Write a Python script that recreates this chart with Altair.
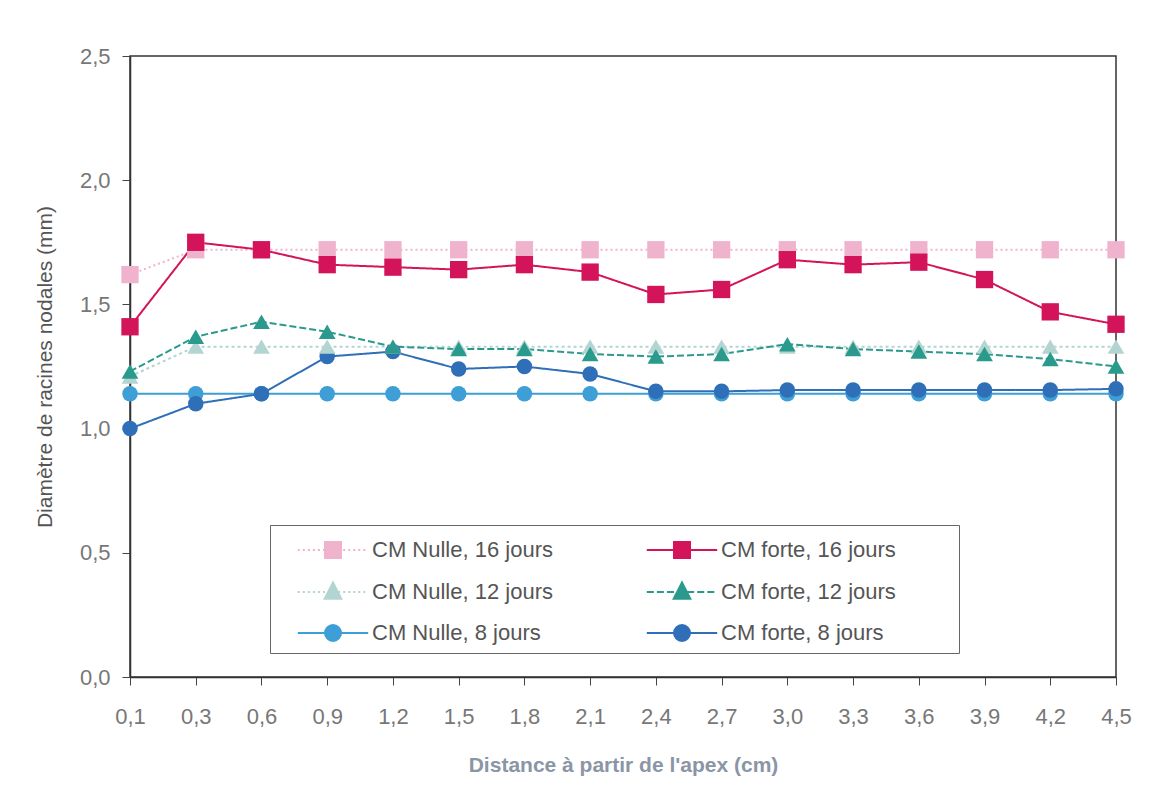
import altair as alt
import pandas as pd

# ---- data ----
x_labels = ["0,1", "0,3", "0,6", "0,9", "1,2", "1,5", "1,8", "2,1",
            "2,4", "2,7", "3,0", "3,3", "3,6", "3,9", "4,2", "4,5"]

series_names = ["CM Nulle, 16 jours", "CM forte, 16 jours",
                "CM Nulle, 12 jours", "CM forte, 12 jours",
                "CM Nulle, 8 jours", "CM forte, 8 jours"]

nulle16 = [1.62, 1.72, 1.72, 1.72, 1.72, 1.72, 1.72, 1.72,
           1.72, 1.72, 1.72, 1.72, 1.72, 1.72, 1.72, 1.72]
forte16 = [1.41, 1.75, 1.72, 1.66, 1.65, 1.64, 1.66, 1.63,
           1.54, 1.56, 1.68, 1.66, 1.67, 1.60, 1.47, 1.42]
nulle12 = [1.21, 1.33, 1.33, 1.33, 1.33, 1.33, 1.33, 1.33,
           1.33, 1.33, 1.33, 1.33, 1.33, 1.33, 1.33, 1.33]
forte12 = [1.23, 1.37, 1.43, 1.39, 1.33, 1.32, 1.32, 1.30,
           1.29, 1.30, 1.34, 1.32, 1.31, 1.30, 1.28, 1.25]
nulle8 = [1.14, 1.14, 1.14, 1.14, 1.14, 1.14, 1.14, 1.14,
          1.14, 1.14, 1.14, 1.14, 1.14, 1.14, 1.14, 1.14]
forte8 = [1.00, 1.10, 1.14, 1.29, 1.31, 1.24, 1.25, 1.22,
          1.15, 1.15, 1.155, 1.155, 1.155, 1.155, 1.155, 1.16]

# drawing order: pale series under the strong ones
draw_order = ["CM Nulle, 16 jours", "CM Nulle, 12 jours", "CM Nulle, 8 jours",
              "CM forte, 8 jours", "CM forte, 12 jours", "CM forte, 16 jours"]
values_by_series = {
    "CM Nulle, 16 jours": nulle16, "CM forte, 16 jours": forte16,
    "CM Nulle, 12 jours": nulle12, "CM forte, 12 jours": forte12,
    "CM Nulle, 8 jours": nulle8, "CM forte, 8 jours": forte8,
}

rows = []
for s in draw_order:
    for xl, v in zip(x_labels, values_by_series[s]):
        rows.append({"dist": xl, "serie": s, "diam": v, "ord": draw_order.index(s)})
df = pd.DataFrame(rows)

# ---- styles ----
colors = ["#f0b3cd", "#d4145a", "#b3d5d2", "#2a9a8c", "#3d9fd6", "#2f6fb8"]
dashes = [[2, 3], [1, 0], [3, 3], [7, 3], [1, 0], [1, 0]]

FONT = "Liberation Sans"


def stroke_path(dash, gap, r=2.2):
    """horizontal line (symbol units), optionally broken into dashes"""
    if gap == 0:
        return f"M{-r},0H{r}"
    parts, x = [], -r
    while x < r:
        x2 = min(x + dash, r)
        parts.append(f"M{x:.3f},0H{x2:.3f}")
        x = x2 + gap
    return "".join(parts)


SQ = "M-0.5,-0.5H0.5V0.5H-0.5Z"
TR = "M0,-0.6L0.52,0.42H-0.52Z"
CI = "M-0.5,0A0.5,0.5,0,1,0,0.5,0A0.5,0.5,0,1,0,-0.5,0Z"
DOT = stroke_path(0.125, 0.19)
DASH = stroke_path(0.44, 0.19)
SOLID = stroke_path(0, 0)
legend_paths = [DOT + SQ, SOLID + SQ, DOT + TR, DASH + TR, SOLID + CI, SOLID + CI]

legend = alt.Legend(
    title=" ",
    titleOrient="right",
    titleFontSize=8,
    titlePadding=55,
    orient="none",
    direction="horizontal",
    legendX=140,
    legendY=469,
    columns=2,
    columnPadding=74,
    rowPadding=13,
    padding=8,
    strokeColor="#666666",
    fillColor="white",
    symbolSize=1024,
    symbolOffset=38,
    labelOffset=22,
    labelFont=FONT,
    labelFontSize=22,
    labelColor="#555555",
    labelLimit=400,
    symbolStrokeWidth=2,
    symbolOpacity=1,
)

x_enc = alt.X(
    "dist:O",
    sort=x_labels,
    scale=alt.Scale(type="point", padding=0),
    axis=alt.Axis(
        title="Distance à partir de l'apex (cm)",
        labelAngle=0,
        labelFont=FONT,
        labelFontSize=22,
        labelColor="#777777",
        labelPadding=21,
        tickSize=8,
        tickColor="#444444",
        domainColor="#333333",
        domainWidth=1.5,
        titleFont=FONT,
        titleFontSize=21,
        titleFontWeight="bold",
        titleColor="#8a95a5",
        titlePadding=27,
        grid=False,
    ),
)
y_enc = alt.Y(
    "diam:Q",
    scale=alt.Scale(domain=[0, 2.5], nice=False),
    axis=alt.Axis(
        title="Diamètre de racines nodales (mm)",
        values=[0, 0.5, 1.0, 1.5, 2.0, 2.5],
        labelExpr="replace(format(datum.value, '.1f'), '.', ',')",
        labelFont=FONT,
        labelFontSize=22,
        labelColor="#777777",
        labelPadding=12,
        tickSize=8,
        tickColor="#444444",
        domainColor="#333333",
        domainWidth=1.5,
        titleFont=FONT,
        titleFontSize=21,
        titleFontWeight="normal",
        titleColor="#555555",
        titlePadding=24,
        grid=False,
    ),
)
# data-driven (sorted) domain for plot colours, so their hidden legend
# does not swallow the legend of the legend layer
color_enc = alt.Color(
    "serie:N",
    sort=series_names,
    scale=alt.Scale(range=colors),
    legend=None,
)

base = alt.Chart(df)

lines = base.mark_line(strokeWidth=2).encode(
    x=x_enc,
    y=y_enc,
    color=color_enc,
    strokeDash=alt.StrokeDash(
        "serie:N",
        sort=series_names,
        scale=alt.Scale(range=dashes),
        legend=None,
    ),
    detail="serie:N",
    order="ord:Q",
)


def marker_layer(shape, size, tag):
    return (
        base.transform_filter(alt.FieldOneOfPredicate(
            field="serie", oneOf=[s for s in series_names if tag in s]))
        .mark_point(filled=True, opacity=1, shape=shape, size=size)
        .encode(x=x_enc, y=y_enc, color=color_enc, order="ord:Q")
    )


squares = marker_layer("square", 300, "16 jours")
triangles = marker_layer("triangle-up", 280, "12 jours")
circles = marker_layer("circle", 240, "8 jours")

# legend-only layer: invisible marks, visible legend
legend_layer = (
    base.mark_point(filled=True, opacity=0)
    .encode(
        x=x_enc,
        y=y_enc,
        fill=alt.Fill("serie:N", scale=alt.Scale(domain=series_names, range=colors), legend=legend),
        stroke=alt.Stroke("serie:N", scale=alt.Scale(domain=series_names, range=colors), legend=legend),
        shape=alt.Shape("serie:N", scale=alt.Scale(domain=series_names, range=legend_paths), legend=legend),
    )
)

chart = (
    alt.layer(lines, circles, triangles, squares, legend_layer)
    .properties(
        width=986,
        height=621,
        padding={"left": 122, "top": 48, "right": 28, "bottom": 100},
        autosize="none",
        background="white",
    )
    .configure_view(stroke="#333333", strokeWidth=1.5)
)

chart.save("out.html", embed_options={"renderer": "svg", "actions": False})
